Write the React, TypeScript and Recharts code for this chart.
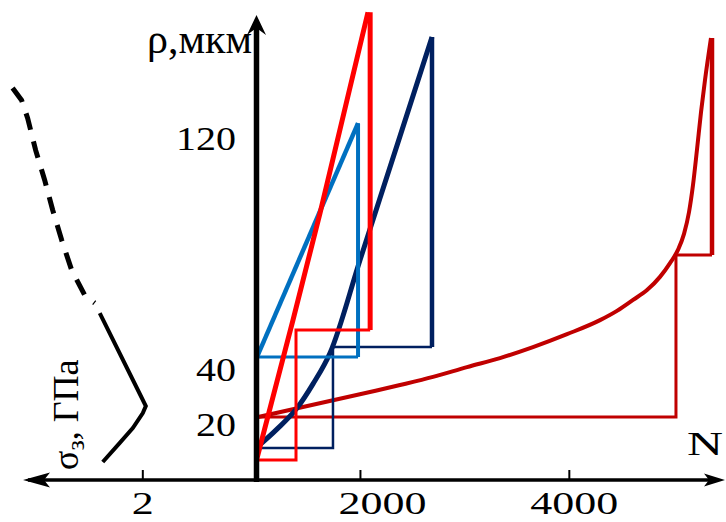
import { LineChart, Line, XAxis, YAxis } from "recharts";

type P = { n: number; r: number };
type S = { s: number; r: number };

// right part: radius rho (um) against number of cycles N
const redCurve: P[] = [
  { n: 1010, r: 7.8 }, { n: 1354, r: 56.9 }, { n: 1613, r: 95.0 }, { n: 2072, r: 166.5 },
];
const redSteps: P[] = [
  { n: 2093, r: 166.5 }, { n: 2093, r: 53.4 }, { n: 1383, r: 53.4 }, { n: 1383, r: 7.1 }, { n: 1019, r: 7.1 },
];

const blueCurve: P[] = [{ n: 1010, r: 43.8 }, { n: 1977, r: 127.0 }];
const blueSteps: P[] = [{ n: 1977, r: 127.0 }, { n: 1977, r: 43.8 }, { n: 1010, r: 43.8 }];

const navyCurve: P[] = [
  { n: 1010, r: 11.7 }, { n: 1201, r: 18.1 }, { n: 1393, r: 25.6 }, { n: 1546, r: 34.2 },
  { n: 1709, r: 45.2 }, { n: 1996, r: 78.3 }, { n: 2379, r: 122.4 }, { n: 2685, r: 157.7 },
];
const navySteps: P[] = [
  { n: 2685, r: 157.7 }, { n: 2685, r: 47.3 }, { n: 1737, r: 47.3 }, { n: 1737, r: 11.4 }, { n: 1019, r: 11.4 },
];

const darkRedCurve: P[] = [
  { n: 1019, r: 22.4 }, { n: 2091, r: 31.3 }, { n: 2379, r: 33.8 }, { n: 2695, r: 36.7 },
  { n: 3020, r: 40.2 }, { n: 3336, r: 43.4 }, { n: 3652, r: 47.3 }, { n: 3978, r: 51.9 },
  { n: 4294, r: 56.9 }, { n: 4456, r: 60.2 }, { n: 4610, r: 64.1 }, { n: 4744, r: 67.6 },
  { n: 4868, r: 72.3 }, { n: 4964, r: 77.2 }, { n: 5040, r: 81.9 }, { n: 5098, r: 87.6 },
  { n: 5146, r: 95.4 }, { n: 5184, r: 105.0 }, { n: 5222, r: 117.5 }, { n: 5261, r: 131.0 },
  { n: 5299, r: 142.4 }, { n: 5356, r: 157.3 },
];
const darkRedSteps: P[] = [
  { n: 5366, r: 157.3 }, { n: 5366, r: 80.1 }, { n: 5021, r: 80.1 }, { n: 5021, r: 22.4 }, { n: 1019, r: 22.4 },
];

// left part: stress sigma (GPa) against rho
const sigmaSolid: S[] = [
  { s: 2.708, r: 6.4 }, { s: 2.407, r: 13.2 }, { s: 2.177, r: 18.5 }, { s: 2.0, r: 23.8 },
  { s: 1.947, r: 26.3 }, { s: 2.035, r: 29.9 }, { s: 2.761, r: 59.4 },
];
const sigmaDashed: S[] = [
  { s: 4.301, r: 139.5 }, { s: 4.142, r: 135.2 }, { s: 4.035, r: 128.8 }, { s: 3.894, r: 117.4 },
  { s: 3.735, r: 106.8 }, { s: 3.593, r: 96.1 }, { s: 3.434, r: 85.4 }, { s: 3.257, r: 74.7 },
  { s: 3.027, r: 65.8 }, { s: 2.85, r: 63.0 },
];

const nTicks = [2000, 4000];
const sigmaTicks = [2];
const rhoTicks = [20, 40, 120];

const RED = "#ff0000";
const DARK_RED = "#c00000";
const NAVY = "#002060";
const BLUE = "#0070c0";
const FONT = "'Liberation Serif', 'Times New Roman', serif";

const W = 726;
const H = 522;
const RHO_DOMAIN: [number, number] = [0, 168];

// label nudges, the original labels sit a bit off their ticks
const xShift: Record<number, number> = { 2000: 22, 4000: 5 };
const yShift: Record<number, number> = { 120: -5, 40: 1 };

const BottomTick = ({ x, y, payload }: any) => {
  const label = String(payload.value);
  return (
    <g>
      <line x1={x} y1={y - 10} x2={x} y2={y} stroke="#000" strokeWidth={2} />
      <text
        x={x + (xShift[payload.value] ?? 0)}
        y={y + 34}
        textAnchor="middle"
        fontFamily={FONT}
        fontSize={31}
        textLength={label.length * 22}
        lengthAdjust="spacingAndGlyphs"
        fill="#000"
      >
        {label}
      </text>
    </g>
  );
};

const LeftTick = ({ x, y, payload }: any) => {
  const label = String(payload.value);
  return (
    <text
      x={x - 20}
      y={y + 12 + (yShift[payload.value] ?? 0)}
      textAnchor="end"
      fontFamily={FONT}
      fontSize={34}
      textLength={label.length * 20}
      lengthAdjust="spacingAndGlyphs"
      fill="#000"
    >
      {label}
    </text>
  );
};

const common = { dataKey: "r", dot: false, isAnimationActive: false, activeDot: false } as const;

export default function App() {
  return (
    <div style={{ position: "relative", width: W, height: H, background: "#fff" }}>
      <style>{"body{margin:0}"}</style>

      {/* left half: sigma axis runs to the left */}
      <div style={{ position: "absolute", left: 0, top: 0 }}>
        <LineChart width={W} height={H} margin={{ top: 8, right: 470, bottom: 41, left: 7 }}>
          <XAxis
            type="number"
            dataKey="s"
            domain={[0, 4.4]}
            reversed
            ticks={sigmaTicks}
            interval={0}
            height={1}
            tickSize={0}
            tickMargin={0}
            axisLine={false}
            tickLine={false}
            tick={<BottomTick />}
            allowDataOverflow
          />
          <YAxis type="number" domain={RHO_DOMAIN} hide width={0} />
          <Line {...common} data={sigmaSolid} name="solid" type="linear" stroke="#000" strokeWidth={4} />
          <Line
            {...common}
            data={sigmaDashed}
            name="dashed"
            type="linear"
            stroke="#000"
            strokeWidth={5}
            strokeDasharray="17 12"
          />
        </LineChart>
      </div>

      {/* right half: rho against N */}
      <div style={{ position: "absolute", left: 0, top: 0 }}>
        <LineChart width={W} height={H} margin={{ top: 8, right: 0, bottom: 41, left: 255 }}>
          <XAxis
            type="number"
            dataKey="n"
            domain={[1000, 5500]}
            ticks={nTicks}
            interval={0}
            height={1}
            tickSize={0}
            tickMargin={0}
            axisLine={false}
            tickLine={false}
            tick={<BottomTick />}
            allowDataOverflow
          />
          <YAxis
            type="number"
            domain={RHO_DOMAIN}
            ticks={rhoTicks}
            interval={0}
            width={1}
            tickSize={0}
            tickMargin={0}
            axisLine={false}
            tickLine={false}
            tick={<LeftTick />}
            allowDataOverflow
          />

          <Line {...common} data={darkRedSteps.slice(1)} name="drs" type="linear" stroke={DARK_RED} strokeWidth={3} />
          <Line {...common} data={darkRedSteps.slice(0, 2)} name="drd" type="linear" stroke={DARK_RED} strokeWidth={4.5} />
          <Line {...common} data={darkRedCurve} name="drc" type="monotone" stroke={DARK_RED} strokeWidth={4} />

          <Line {...common} data={navySteps.slice(1)} name="nvs" type="linear" stroke={NAVY} strokeWidth={2.5} />
          <Line {...common} data={navySteps.slice(0, 2)} name="nvd" type="linear" stroke={NAVY} strokeWidth={4.5} />
          <Line {...common} data={navyCurve} name="nvc" type="monotone" stroke={NAVY} strokeWidth={5} />

          <Line {...common} data={blueSteps.slice(1)} name="bls" type="linear" stroke={BLUE} strokeWidth={3} />
          <Line {...common} data={blueSteps.slice(0, 2)} name="bld" type="linear" stroke={BLUE} strokeWidth={4} />
          <Line {...common} data={blueCurve} name="blc" type="linear" stroke={BLUE} strokeWidth={4.5} />

          <Line {...common} data={redSteps.slice(1)} name="rds" type="linear" stroke={RED} strokeWidth={3} />
          <Line {...common} data={redSteps.slice(0, 2)} name="rdd" type="linear" stroke={RED} strokeWidth={5} />
          <Line {...common} data={redCurve} name="rdc" type="monotone" stroke={RED} strokeWidth={5} />
        </LineChart>
      </div>

      {/* axes with arrows and axis titles */}
      <svg width={W} height={H} style={{ position: "absolute", left: 0, top: 0, pointerEvents: "none" }}>
        <line x1={256.5} y1={482} x2={256.5} y2={28} stroke="#000" strokeWidth={5.5} />
        <polygon points="256.5,15 247,35 256.5,28 266,35" fill="#000" />
        <line x1={28} y1={480} x2={716} y2={480} stroke="#000" strokeWidth={3.5} />
        <polygon points="725,480 704,473.5 709,480 704,486.5" fill="#000" />
        <polygon points="23,480 50,472.5 44,480 50,487.5" fill="#000" />

        <text x={147} y={53} fontFamily={FONT} fontSize={42} textLength={105} lengthAdjust="spacingAndGlyphs" fill="#000">
          ρ,мкм
        </text>
        <text x={687} y={455} fontFamily={FONT} fontSize={33} textLength={36} lengthAdjust="spacingAndGlyphs" fill="#000">
          N
        </text>
        <text transform="translate(78,470) rotate(-90)" fontFamily={FONT} fontSize={36} fill="#000">
          σ<tspan dy={6} fontSize={26}>з</tspan>
          <tspan dy={-6}>, ГПа</tspan>
        </text>
      </svg>
    </div>
  );
}
